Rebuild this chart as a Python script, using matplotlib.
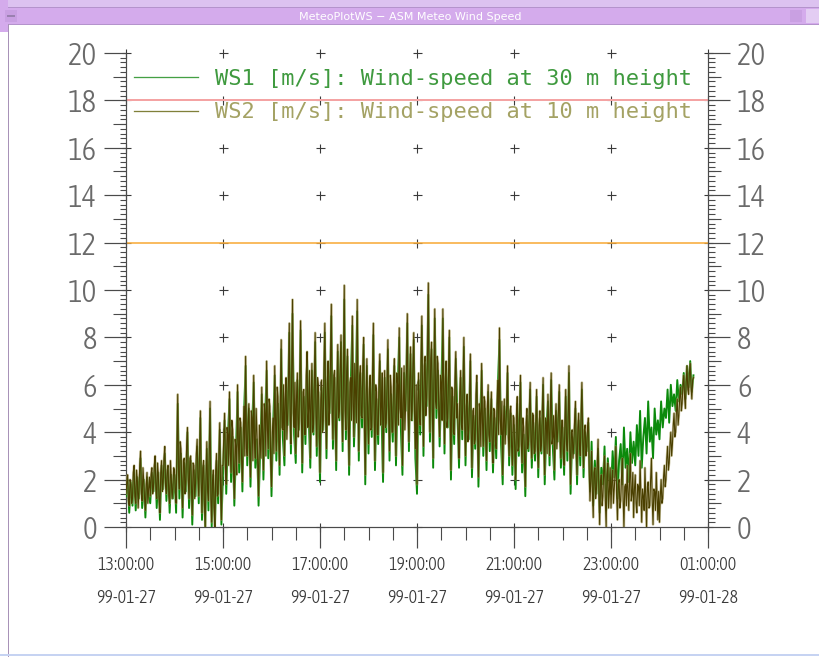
import numpy as np
import matplotlib
matplotlib.use("Agg")
import matplotlib.pyplot as plt
from matplotlib.patches import Rectangle
from matplotlib.lines import Line2D
from matplotlib import font_manager as fm

# ---------------- data ----------------
start_hour = 13.0          # 13:00 on 99-01-27
ws1_step_minutes = 2.0     # WS1 read every 2 minutes
ws2_step_minutes = 1.0     # WS2 read every minute

ws2 = [
    1.4, 1.9, 2.2, 1.1, 0.9, 2.0, 1.8, 1.0, 1.2, 2.3, 2.6, 1.3, 1.0, 2.4, 2.0, 0.8, 1.5, 2.6, 3.2, 1.4, 1.1, 2.5, 1.9, 1.2, 0.7, 1.8, 2.3, 1.0, 1.6, 2.1,
    1.3, 2.2, 2.5, 1.4, 1.7, 2.6, 3.0, 1.6, 1.2, 2.7, 2.2, 1.1, 0.6, 2.3, 2.8, 1.5, 1.9, 2.9, 3.4, 1.7, 1.4, 2.4, 2.6, 1.3, 1.0, 2.8, 2.1, 1.2, 1.6, 2.5,
    2.4, 1.5, 1.0, 3.2, 5.6, 2.2, 1.6, 3.6, 3.3, 1.7, 0.8, 2.8, 2.9, 1.4, 1.9, 3.4, 4.2, 2.0, 1.2, 2.9, 3.0, 1.6, 0.5, 2.7, 2.6, 1.2, 1.8, 3.1, 3.7, 2.1,
    1.3, 3.0, 4.9, 1.9, 0.6, 2.5, 2.8, 1.0, 0.0, 2.2, 3.6, 1.5, 1.1, 3.1, 5.3, 1.2, 0.2, 1.9, 2.4, 0.8, 0.0, 2.4, 3.1, 1.3, 1.4, 3.2, 4.4, 1.6, 0.3, 2.6,
    2.6, 3.8, 4.8, 2.5, 1.8, 4.2, 3.9, 2.6, 5.7, 3.1, 2.3, 4.5, 4.1, 2.4, 1.2, 3.7, 3.4, 2.2, 6.0, 3.5, 2.7, 4.6, 4.4, 2.8, 1.9, 4.0, 5.1, 3.0, 7.2, 3.3,
    3.0, 4.4, 5.2, 3.1, 2.1, 4.9, 4.6, 2.8, 6.4, 3.5, 2.9, 5.0, 4.0, 2.6, 1.3, 4.3, 3.6, 2.9, 5.9, 3.8, 2.4, 5.2, 4.8, 3.0, 7.0, 4.1, 3.3, 5.4, 5.1, 2.7,
    1.7, 4.0, 4.6, 3.1, 6.8, 4.4, 3.2, 5.9, 5.5, 3.6, 2.6, 5.3, 7.9, 4.2, 4.1, 6.0, 3.0, 5.4, 6.3, 3.7, 4.7, 6.2, 8.6, 4.5, 3.5, 6.5, 9.6, 4.8, 4.2, 6.1,
    3.1, 5.5, 6.5, 3.8, 4.4, 6.2, 8.7, 4.6, 2.7, 5.7, 5.8, 3.9, 3.9, 6.4, 7.4, 4.2, 5.0, 6.6, 2.9, 5.3, 6.9, 4.0, 4.3, 6.1, 8.2, 4.7, 3.4, 6.3, 6.0, 4.1,
    2.3, 5.4, 6.2, 4.0, 4.5, 6.8, 8.6, 4.7, 3.3, 6.1, 7.0, 4.3, 5.1, 7.0, 9.4, 4.9, 3.7, 6.4, 6.6, 4.4, 2.8, 5.9, 7.7, 4.6, 4.9, 6.7, 8.1, 4.8, 3.6, 6.2,
    10.2, 4.9, 4.1, 6.6, 7.5, 4.3, 2.6, 6.1, 6.3, 4.5, 8.9, 5.2, 3.8, 6.9, 5.6, 4.4, 9.6, 5.8, 3.2, 6.4, 6.8, 4.7, 4.6, 6.8, 8.0, 4.2, 2.2, 5.6, 7.1, 4.6,
    3.5, 5.8, 6.4, 4.1, 4.2, 6.3, 8.6, 4.5, 2.8, 6.0, 5.7, 3.9, 3.9, 6.2, 7.3, 4.3, 5.1, 6.5, 2.3, 5.0, 6.6, 4.2, 4.4, 6.1, 7.9, 4.6, 3.2, 6.4, 5.9, 4.0,
    4.0, 6.2, 7.1, 4.4, 3.0, 6.5, 6.0, 4.3, 8.4, 5.0, 4.6, 6.7, 2.6, 5.2, 6.8, 4.1, 5.2, 6.6, 9.0, 4.8, 3.6, 6.3, 7.6, 4.5, 4.9, 6.9, 8.2, 4.7, 3.3, 6.0,
    1.8, 5.2, 6.5, 4.6, 4.3, 7.0, 8.9, 5.1, 3.4, 6.8, 7.2, 4.7, 5.5, 7.3, 10.3, 5.4, 4.0, 7.1, 7.8, 4.9, 2.9, 6.6, 9.2, 5.3, 5.0, 7.2, 6.9, 4.8, 3.8, 6.4,
    6.1, 4.5, 9.2, 5.6, 3.5, 6.3, 7.0, 4.2, 4.6, 6.4, 8.3, 4.8, 2.4, 5.9, 5.8, 4.0, 3.9, 6.2, 7.4, 4.6, 5.2, 3.9, 2.9, 5.7, 6.6, 4.3, 4.1, 6.0, 8.0, 4.4,
    3.0, 5.1, 5.6, 3.6, 4.1, 5.4, 7.3, 4.0, 2.5, 4.9, 5.0, 3.5, 3.7, 5.6, 6.4, 3.8, 2.1, 5.2, 4.8, 3.4, 6.9, 4.4, 3.4, 5.5, 5.3, 3.7, 2.8, 5.0, 6.0, 3.9,
    3.6, 4.8, 5.7, 3.3, 2.7, 5.0, 4.9, 3.6, 3.3, 5.2, 6.2, 3.9, 8.4, 4.5, 3.9, 5.3, 2.2, 4.4, 5.4, 3.5, 4.3, 5.1, 6.8, 3.8, 3.0, 4.9, 5.1, 3.4, 2.6, 4.7,
    4.6, 3.1, 2.0, 4.7, 5.5, 3.2, 3.4, 4.9, 6.4, 3.5, 2.7, 4.6, 4.2, 3.0, 1.7, 4.4, 5.0, 3.3, 3.6, 5.0, 6.1, 3.6, 2.9, 4.8, 4.7, 3.1, 3.2, 4.5, 5.8, 3.4,
    2.5, 4.3, 4.9, 3.2, 3.5, 4.8, 6.3, 3.4, 2.2, 4.6, 4.4, 3.1, 5.6, 4.1, 3.0, 4.9, 6.5, 3.5, 3.8, 4.7, 2.4, 4.4, 5.2, 3.3, 4.0, 4.9, 6.0, 3.6, 2.9, 4.5,
    4.5, 3.2, 2.6, 4.4, 5.8, 3.5, 3.2, 4.6, 6.8, 3.3, 1.8, 4.0, 4.1, 2.9, 3.5, 4.5, 5.3, 3.1, 2.2, 4.2, 4.8, 3.4, 3.0, 4.7, 6.1, 3.6, 2.5, 4.1, 4.3, 3.0,
    3.4, 4.2, 4.6, 2.4, 1.1, 2.0, 3.2, 1.5, 0.4, 2.3, 2.5, 1.2, 1.6, 2.6, 3.7, 1.4, 0.1, 1.9, 2.2, 0.9, 1.3, 2.4, 3.0, 1.1, 0.0, 2.2, 2.7, 0.8, 1.5, 2.5,
    0.8, 1.9, 2.4, 1.0, 1.6, 2.2, 3.4, 1.3, 0.3, 1.8, 2.0, 0.8, 1.1, 2.1, 2.9, 1.2, 0.0, 1.7, 1.8, 0.9, 2.6, 1.5, 0.7, 2.0, 3.1, 1.1, 1.4, 2.3, 0.4, 1.6,
    2.2, 1.0, 0.6, 1.8, 1.7, 0.9, 2.8, 1.4, 0.2, 1.6, 1.3, 0.7, 2.5, 1.2, 0.0, 1.7, 1.9, 0.8, 0.9, 2.0, 2.9, 1.1, 0.1, 1.6, 1.5, 0.7, 2.3, 1.3, 0.3, 1.5,
    0.2, 1.3, 2.0, 1.0, 1.2, 2.1, 2.6, 1.7, 2.0, 2.9, 3.4, 2.4, 2.7, 3.5, 4.0, 3.0, 3.5, 4.3, 4.8, 3.8, 4.0, 4.9, 5.4, 4.3, 4.7, 5.5, 5.9, 4.9, 5.2, 6.0,
    6.4, 5.5, 5.0, 6.1, 6.8, 5.8, 5.6, 6.5, 6.9, 5.9, 5.4, 6.2, 6.3,
]

ws1 = [
    1.3, 2.0, 0.6, 1.9, 0.9, 2.4, 0.7, 2.1, 1.2, 2.9, 0.8, 2.0, 0.4, 2.1, 1.3,
    1.0, 2.3, 1.5, 2.8, 0.8, 2.3, 0.3, 2.6, 1.6, 3.1, 1.1, 2.5, 0.6, 2.2, 1.2,
    2.2, 0.6, 5.2, 1.2, 3.1, 0.4, 2.7, 1.5, 4.0, 0.8, 2.8, 0.1, 2.4, 1.3, 3.4,
    1.0, 4.6, 0.3, 2.6, 0.0, 3.3, 0.7, 5.0, 0.0, 2.2, 0.0, 2.8, 1.0, 4.1, 0.1,
    2.2, 4.5, 1.4, 3.7, 5.4, 1.9, 3.8, 0.9, 3.1, 5.7, 2.3, 4.2, 1.5, 4.8, 6.8,
    2.6, 5.0, 1.7, 4.3, 6.1, 2.5, 3.7, 0.9, 3.3, 5.6, 2.0, 4.5, 6.6, 2.9, 4.8,
    1.3, 4.3, 6.4, 2.8, 5.2, 2.2, 7.5, 3.8, 2.6, 6.0, 4.3, 8.2, 3.1, 9.0, 3.9,
    2.7, 6.2, 4.1, 8.3, 2.3, 5.5, 3.5, 7.1, 4.7, 2.5, 6.6, 3.9, 7.8, 3.0, 5.7,
    1.9, 5.9, 4.1, 8.2, 2.9, 6.7, 4.8, 8.9, 3.3, 6.3, 2.4, 7.4, 4.5, 7.8, 3.2,
    9.6, 3.7, 7.2, 2.2, 6.0, 8.5, 3.4, 5.3, 9.1, 2.8, 6.5, 4.2, 7.7, 1.8, 6.8,
    3.1, 6.1, 3.8, 8.1, 2.4, 5.4, 3.5, 7.0, 4.8, 1.9, 6.3, 4.0, 7.5, 2.8, 5.6,
    3.6, 6.8, 2.6, 5.7, 8.0, 4.2, 2.2, 6.5, 4.9, 8.6, 3.2, 7.3, 4.5, 7.9, 2.9,
    1.4, 6.2, 3.9, 8.5, 3.0, 6.9, 5.1, 9.8, 3.6, 7.5, 2.5, 8.8, 4.6, 6.6, 3.4,
    5.8, 8.8, 3.1, 6.7, 4.2, 8.0, 2.0, 5.5, 3.5, 7.1, 4.8, 2.5, 6.3, 3.7, 7.6,
    2.6, 5.3, 3.7, 7.0, 2.1, 4.7, 3.3, 6.1, 1.7, 4.5, 6.6, 3.0, 5.0, 2.4, 5.7,
    3.2, 5.4, 2.3, 4.6, 2.9, 5.9, 7.9, 3.5, 1.8, 5.1, 3.9, 6.5, 2.6, 4.8, 2.2,
    4.3, 1.6, 5.2, 3.0, 6.1, 2.3, 3.9, 1.3, 4.7, 3.2, 5.8, 2.5, 4.4, 2.8, 5.5,
    2.1, 4.6, 3.1, 6.0, 1.8, 4.1, 5.3, 2.6, 6.2, 3.4, 2.0, 4.9, 3.6, 5.7, 2.5,
    4.2, 2.2, 5.5, 2.8, 6.5, 1.4, 3.8, 3.1, 5.0, 1.8, 4.5, 2.6, 5.8, 2.1, 4.0,
    3.2, 4.4, 1.5, 3.6, 0.9, 2.8, 1.4, 3.3, 0.6, 2.5, 1.8, 3.4, 0.7, 2.9, 2.0,
    1.4, 3.2, 2.1, 3.8, 1.2, 2.8, 3.5, 1.8, 4.2, 2.5, 3.3, 1.9, 4.0, 2.7, 3.6,
    2.6, 4.3, 3.0, 4.9, 2.5, 3.8, 4.6, 3.1, 5.3, 3.6, 4.2, 2.9, 5.0, 3.9, 4.5,
    3.7, 5.3, 4.2, 5.0, 4.6, 5.8, 4.4, 6.0, 5.1, 5.6, 4.9, 6.2, 5.3, 6.0, 5.6,
    6.5, 5.4, 6.8, 5.9, 7.0, 5.7, 6.4,
]

limit_red = 18.0
limit_orange = 12.0

x_major = [13, 15, 17, 19, 21, 23, 25]
x_labels = ["13:00:00\n99-01-27", "15:00:00\n99-01-27", "17:00:00\n99-01-27",
            "19:00:00\n99-01-27", "21:00:00\n99-01-27", "23:00:00\n99-01-27",
            "01:00:00\n99-01-28"]
y_major = [0, 2, 4, 6, 8, 10, 12, 14, 16, 18, 20]
y_mid = [1, 3, 5, 7, 9, 11, 13, 15, 17, 19]

label1 = "WS1 [m/s]: Wind-speed at 30 m height"
label2 = "WS2 [m/s]: Wind-speed at 10 m height"
window_title = "MeteoPlotWS \u2212 ASM Meteo Wind Speed"

# ---------------- font choice (narrow, light face if one is installed) ----------------
NAMED_NARROW = {"Liberation Sans Narrow": "condensed", "Roboto Condensed": "condensed",
                "Open Sans Condensed": "condensed", "DejaVu Sans Condensed": "condensed"}

def pick_font(stretches):
    best = None
    for e in fm.fontManager.ttflist:
        if e.style != "normal":
            continue
        st = NAMED_NARROW.get(e.name, str(e.stretch))
        if st not in stretches:
            continue
        w = e.weight if isinstance(e.weight, int) else 400
        if w > 400:
            continue
        key = (stretches.index(st), abs(w - 300))
        if best is None or key < best[0]:
            best = (key, e.fname)
    return best[1] if best else None

y_file = pick_font(["condensed", "semi-condensed", "extra-condensed"])
x_file = pick_font(["extra-condensed", "ultra-condensed", "condensed", "semi-condensed"])
x_extra = x_file is not None and x_file != y_file

def make_font(fname, size_px):
    if fname:
        return fm.FontProperties(fname=fname, size=size_px * 0.72)
    return fm.FontProperties(family=["DejaVu Sans"], size=size_px * 0.72)

y_size = 31 if y_file else 26
x_size = (21 if x_extra else 18) if x_file else 13

# ---------------- figure ----------------
W, H = 819, 657
fig = plt.figure(figsize=(W / 100, H / 100), dpi=100)
fig.patch.set_facecolor("white")

def px(v):  # pixels -> points
    return v * 0.72

def frect(x, y, w, h, color, z=0):
    fig.add_artist(Rectangle((x / W, 1 - (y + h) / H), w / W, h / H,
                             transform=fig.transFigure, facecolor=color,
                             edgecolor="none", zorder=z))

# window chrome
frect(0, 0, W, 7, "#dcc2f0")
frect(0, 7, W, 18, "#d4abec")
frect(0, 7, W, 1, "#b493cc")
frect(0, 24, W, 1, "#b493cc")
frect(0, 0, 8, 32, "#d4abec")
frect(8, 24, 1.3, H - 24, "#a892b8")
frect(5, 10, 12, 12, "#c9a0e2")
frect(7, 15, 8, 1.5, "#9a80b0")
frect(790, 10, 12, 12, "#c9a0e2")
frect(806, 9, 13, 14, "#e3cdf3")
frect(0, 654, W, 2, "#c6d3f2")
fig.text(410 / W, 1 - 16.5 / H, window_title, ha="center", va="center",
         color="white", fontsize=8, family=["DejaVu Sans"])

# axes placement (pixels)
left, right, top, bottom = 126, 708, 53, 527
ax = fig.add_axes([left / W, 1 - bottom / H, (right - left) / W, (bottom - top) / H])
ax.set_xlim(13, 25)
ax.set_ylim(0, 20)
ax.patch.set_alpha(0)

axis_color = "#4a4a4a"
for s in ["left", "right", "bottom"]:
    ax.spines[s].set_color(axis_color)
    ax.spines[s].set_linewidth(px(1.2))
ax.spines["top"].set_visible(False)

# y ticks
yfont = make_font(y_file, y_size)
ax.set_yticks(y_major)
ax.set_yticklabels([str(v) for v in y_major])
ax.set_yticks(np.arange(0, 20.01, 0.2), minor=True)
ax.tick_params(axis="y", which="major", direction="out", length=px(22), width=px(1.2),
               color=axis_color, labelcolor="#6a6a6a", pad=px(7),
               left=True, right=True, labelleft=True, labelright=True)
ax.tick_params(axis="y", which="minor", direction="out", length=px(6.5), width=px(1.1),
               color=axis_color, left=True, right=True)
for tk in ax.yaxis.get_major_ticks():
    tk.label1.set_fontproperties(yfont)
    tk.label2.set_fontproperties(yfont)

for side in ["left", "right"]:
    sec = ax.secondary_yaxis(side)
    sec.set_yticks(y_mid)
    sec.tick_params(direction="out", length=px(13), width=px(1.1), color=axis_color,
                    labelleft=False, labelright=False)
    for s in sec.spines.values():
        s.set_visible(False)

# x ticks
xfont = make_font(x_file, x_size)
ax.set_xticks(x_major)
ax.set_xticklabels(x_labels, linespacing=33.0 / (0.876 * x_size))
ax.set_xticks(np.arange(13, 25.01, 0.5), minor=True)
ax.tick_params(axis="x", which="major", direction="out", length=px(21), width=px(1.2),
               color=axis_color, labelcolor="#3a3a3a", pad=px(8))
ax.tick_params(axis="x", which="minor", direction="out", length=px(13), width=px(1.1),
               color=axis_color)
for tl in ax.get_xticklabels():
    tl.set_fontproperties(xfont)

# '+' grid marks at major tick crossings
gx, gy = np.meshgrid(x_major, y_major)
ax.plot(gx.ravel(), gy.ravel(), linestyle="none", marker="+", markersize=px(9),
        markeredgewidth=px(1.1), color="#3a3a3a", zorder=1.5, clip_on=False)

# limit lines
ax.axhline(limit_red, color="#f4a3a3", linewidth=px(2), zorder=2)
ax.axhline(limit_orange, color="#f8ac3c", linewidth=px(1.6), zorder=2)

# series (time axis in hours)
t1 = start_hour + np.arange(len(ws1)) * ws1_step_minutes / 60.0
t2 = start_hour + np.arange(len(ws2)) * ws2_step_minutes / 60.0
ax.plot(t1, ws1, color="#0b8a0b", linewidth=px(1.9), zorder=3)
ax.plot(t2, ws2, color="#a89f62", linewidth=px(2.4), alpha=0.55, zorder=4)
ax.plot(t2, ws2, color="#4a3f00", linewidth=px(1.1), zorder=5)

# legend
handles = [Line2D([], [], color="#44a044", linewidth=px(1.3)),
           Line2D([], [], color="#80803a", linewidth=px(1.3))]
leg = ax.legend(handles, [label1, label2], loc="upper left",
                bbox_to_anchor=(0.0143, 0.966), frameon=False,
                prop={"family": "DejaVu Sans Mono", "size": px(22)},
                handlelength=2.9, handletextpad=0.75, labelspacing=0.6,
                borderpad=0, borderaxespad=0)
leg.get_texts()[0].set_color("#3f9a3f")
leg.get_texts()[1].set_color("#a4a264")
leg.set_zorder(6)

fig.savefig("out.png", dpi=100)
